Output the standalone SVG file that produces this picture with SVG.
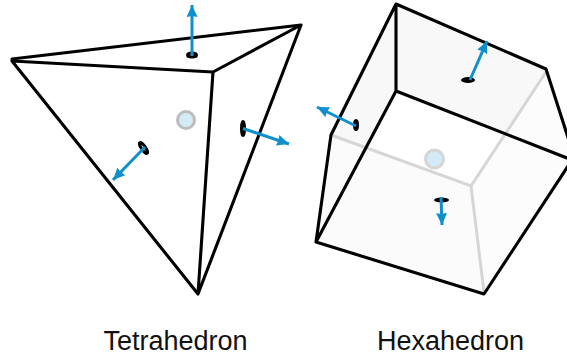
<svg xmlns="http://www.w3.org/2000/svg" width="567" height="358" viewBox="0 0 567 358">
<defs>
<marker id="ah" markerUnits="userSpaceOnUse" markerWidth="14" markerHeight="14" refX="12" refY="5.500" orient="auto"><path d="M0 0L12 5.500L0 11L1 5.500Z" fill="#0f8fce"/></marker>
</defs>
<style>
.e{fill:none;stroke:#000;stroke-width:3.100;stroke-linecap:round;stroke-linejoin:round}
.g{fill:none;stroke:#d6d6d6;stroke-width:3;stroke-linecap:round}
.n{fill:none;stroke:#0f8fce;stroke-width:3;marker-end:url(#ah)}
.r{fill:#fff;stroke:#000;stroke-width:3}
.c{stroke-width:3;fill:#d3ebf6}
.t{font-family:"Liberation Sans",Arial,sans-serif;font-size:27px;fill:#111;text-anchor:middle}
</style>
<g id="tetrahedron">
<path class="e" d="M12 59L301 25L213 72L12 61M12 61L198 294L213 72M198 294L301 25"/>
<circle class="c" cx="186" cy="120" r="8.500" stroke="#bdbdbd"/>
</g>
<g id="hexahedron">
<path d="M396 4L546 69L567 133V158L396 91Z" fill="#f8f8f8"/>
<path d="M396 4V91L316 242L331 135Z" fill="#f8f8f8"/>
<path d="M331 135L471 186L484 294L316 242Z" fill="#fbfbfb"/>
<path d="M471 186L546 69L567 133V165L484 294Z" fill="#fcfcfc"/>
<path class="g" d="M331 135L471 186L546 72M471 186L484 292"/>
<path class="e" d="M331 135L396 4V91L316 242L331 135M396 4L546 69L572 150M396 91L572 160L484 294L316 242"/>
<circle class="c" cx="434.500" cy="159" r="9" stroke="#d6d6d6"/>
</g>
<g id="connectors">
<ellipse class="r" cx="192" cy="55" rx="4.500" ry="2"/>
<path class="n" d="M192 55V5"/>
<ellipse class="r" cx="143.500" cy="148" rx="2" ry="6.500" transform="rotate(-35 143.500 148)"/>
<path class="n" d="M145 147L113 180"/>
<ellipse class="r" cx="243" cy="128.500" rx="1.500" ry="7"/>
<path class="n" d="M243 128.500L289 144"/>
<ellipse cx="468" cy="80" rx="7" ry="3"/>
<path class="n" d="M470 80L487 41"/>
<ellipse class="r" cx="356" cy="125" rx="1.500" ry="4.500"/>
<path class="n" d="M356 126L317 107"/>
<ellipse cx="441.500" cy="200" rx="7.500" ry="2.500"/>
<path class="n" d="M441 197L442 225"/>
</g>
<text class="t" x="175.500" y="350">Tetrahedron</text>
<text class="t" x="450.500" y="350">Hexahedron</text>
</svg>
